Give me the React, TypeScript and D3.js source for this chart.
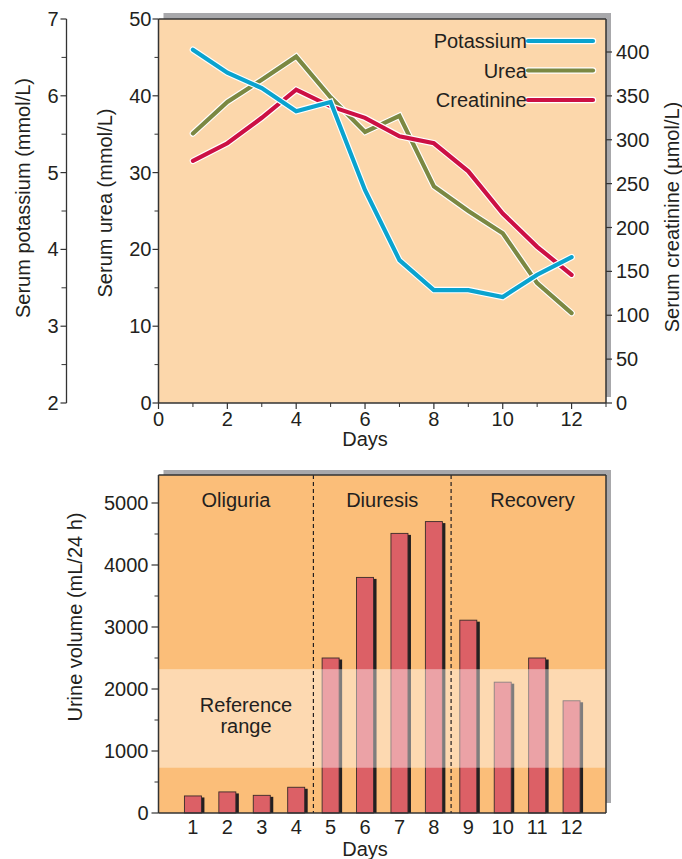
import React from "react";
import * as d3 from "d3";

const days = [1, 2, 3, 4, 5, 6, 7, 8, 9, 10, 11, 12];
const potassium = [6.6, 6.3, 6.1, 5.8, 5.92, 4.77, 3.86, 3.47, 3.47, 3.38, 3.67, 3.9];
const urea = [35.1, 39.2, 42.1, 45.1, 39.8, 35.3, 37.4, 28.2, 25.0, 22.1, 15.6, 11.7];
const creatinine = [276, 296, 325, 357, 338, 325, 304, 296, 264, 216, 178, 146];
const urine = [275, 340, 285, 415, 2500, 3800, 4510, 4700, 3110, 2110, 2500, 1810];
const referenceRange = [730, 2320];
const phases = [
  { name: "Oliguria", from: 0, to: 4.5 },
  { name: "Diuresis", from: 4.5, to: 8.5 },
  { name: "Recovery", from: 8.5, to: 13 },
];
const seriesNames = ["Potassium", "Urea", "Creatinine"];
const seriesColors = ["#0aa3cf", "#7b8842", "#cc1044"];

const FONT = "'Liberation Sans', Arial, Helvetica, sans-serif";
const TXT = "#231f20";
const FS = 20;

export default function App() {
  // Top chart scales
  const L = 158.5, R = 606;
  const x = d3.scaleLinear().domain([0, 13]).range([L, R]);
  const T1 = 19, B1 = 403;
  const yUrea = d3.scaleLinear().domain([0, 50]).range([B1, T1]);
  const yK = d3.scaleLinear().domain([2, 7]).range([B1, T1]);
  const yCr = d3.scaleLinear().domain([0, 400]).range([B1, 52]);
  const kAxisX = 66.5;

  const lineK = d3.line<number>().x((_, i) => x(days[i])).y((d) => yK(d));
  const lineU = d3.line<number>().x((_, i) => x(days[i])).y((d) => yUrea(d));
  const lineC = d3.line<number>().x((_, i) => x(days[i])).y((d) => yCr(d));
  const paths = [lineK(potassium), lineU(urea), lineC(creatinine)];

  // Bottom chart
  const T2 = 475, B2 = 813;
  const yV = d3.scaleLinear().domain([0, 5000]).range([B2, 503]);
  const barW = 17;

  const kMajor = d3.range(2, 7.01, 1);
  const kMinor = d3.range(2.5, 7, 1);
  const uMajor = d3.range(0, 50.1, 10);
  const uMinor = d3.range(5, 50, 10);
  const crTicks = d3.range(0, 400.1, 50);
  const xMajor = d3.range(0, 12.1, 2);
  const xMinor = d3.range(1, 13.1, 2);
  const vMajor = d3.range(0, 5000.1, 1000);
  const vMinor = d3.range(500, 5400, 1000);

  return (
    <svg
      width={682}
      height={859}
      style={{ position: "absolute", left: 0, top: 0, display: "block" }}
      fontFamily={FONT}
    >
      <rect width={682} height={859} fill="#ffffff" />
      {/* ===== TOP CHART ===== */}
      <rect x={L + 5} y={T1 - 6} width={R - L} height={B1 - T1} fill="#a8a8ab" />
      <rect x={L} y={T1} width={R - L} height={B1 - T1} fill="#fcd7ab" />
      <line x1={L} x2={R} y1={T1} y2={T1} stroke="#333" strokeWidth={1.5} />
      <line x1={R} x2={R} y1={T1} y2={B1} stroke="#333" strokeWidth={1.5} />
      <line x1={L} x2={L} y1={T1} y2={B1} stroke="#333" strokeWidth={1.5} />
      <line x1={L} x2={R} y1={B1} y2={B1} stroke="#333" strokeWidth={1.5} />

      {/* potassium axis */}
      <line x1={kAxisX} x2={kAxisX} y1={yK(7)} y2={yK(2)} stroke="#333" strokeWidth={1.3} />
      {kMajor.map((v) => (
        <g key={"km" + v}>
          <line x1={kAxisX - 6} x2={kAxisX} y1={yK(v)} y2={yK(v)} stroke="#333" strokeWidth={1.2} />
          <text x={kAxisX - 8} y={yK(v)} dy="0.35em" textAnchor="end" fontSize={FS} fill={TXT}>{v}</text>
        </g>
      ))}
      {kMinor.map((v) => (
        <line key={"kn" + v} x1={kAxisX - 5} x2={kAxisX} y1={yK(v)} y2={yK(v)} stroke="#333" strokeWidth={1} />
      ))}
      <text transform={`translate(30,198) rotate(-90)`} textAnchor="middle" fontSize={FS} fill={TXT}>
        Serum potassium (mmol/L)
      </text>

      {/* urea axis */}
      {uMajor.map((v) => (
        <g key={"um" + v}>
          <line x1={L - 6} x2={L} y1={yUrea(v)} y2={yUrea(v)} stroke="#333" strokeWidth={1.2} />
          <text x={L - 7} y={yUrea(v)} dy="0.35em" textAnchor="end" fontSize={FS} fill={TXT}>{v}</text>
        </g>
      ))}
      {uMinor.map((v) => (
        <line key={"un" + v} x1={L - 4} x2={L} y1={yUrea(v)} y2={yUrea(v)} stroke="#333" strokeWidth={1} />
      ))}
      <text transform={`translate(112,203) rotate(-90)`} textAnchor="middle" fontSize={FS} fill={TXT}>
        Serum urea (mmol/L)
      </text>

      {/* creatinine axis */}
      {crTicks.map((v) => (
        <g key={"cr" + v}>
          <line x1={R} x2={R + 6} y1={yCr(v)} y2={yCr(v)} stroke="#333" strokeWidth={1.2} />
          <text x={R + 10} y={yCr(v)} dy="0.35em" textAnchor="start" fontSize={FS} fill={TXT}>{v}</text>
        </g>
      ))}
      <text transform={`translate(679,217) rotate(-90)`} textAnchor="middle" fontSize={FS} fill={TXT}>
        Serum creatinine (µmol/L)
      </text>

      {/* x axis top */}
      {xMajor.map((v) => (
        <g key={"xm" + v}>
          <line x1={x(v)} x2={x(v)} y1={B1} y2={B1 + 6} stroke="#333" strokeWidth={1.2} />
          <text x={x(v)} y={B1 + 23} textAnchor="middle" fontSize={FS} fill={TXT}>{v}</text>
        </g>
      ))}
      {xMinor.map((v) => (
        <line key={"xn" + v} x1={x(v)} x2={x(v)} y1={B1} y2={B1 + 4} stroke="#333" strokeWidth={1} />
      ))}
      <text x={x(6)} y={B1 + 43} textAnchor="middle" fontSize={FS} fill={TXT}>Days</text>

      {/* lines */}
      {[1, 2, 0].map((i) => (
        <g key={"ln" + i}>
          <path d={paths[i] || ""} fill="none" stroke="#ffffff" strokeWidth={6.5} strokeLinejoin="miter" strokeLinecap="round" />
          <path d={paths[i] || ""} fill="none" stroke={seriesColors[i]} strokeWidth={4.2} strokeLinejoin="miter" strokeLinecap="round" />
        </g>
      ))}

      {/* legend */}
      {seriesNames.map((n, i) => {
        const ly = 41 + i * 29.5;
        return (
          <g key={"lg" + n}>
            <line x1={528} x2={593} y1={ly} y2={ly} stroke="#ffffff" strokeWidth={6.5} strokeLinecap="round" />
            <line x1={528} x2={593} y1={ly} y2={ly} stroke={seriesColors[i]} strokeWidth={4.2} strokeLinecap="round" />
            <text x={527} y={ly} dy="0.35em" textAnchor="end" fontSize={FS} fill={TXT}>{n}</text>
          </g>
        );
      })}

      {/* ===== BOTTOM CHART ===== */}
      <rect x={L + 5} y={T2 - 5} width={R - L} height={B2 - T2 - 5} fill="#a8a8ab" />
      <rect x={L} y={T2} width={R - L} height={B2 - T2} fill="#fbbe79" />

      {/* bars */}
      {urine.map((v, i) => {
        const cx = x(days[i]);
        return (
          <g key={"bar" + i}>
            <rect x={cx - barW / 2 + 3} y={yV(v) + 1.5} width={barW} height={B2 - yV(v) - 1.5} fill="#231f20" />
            <rect x={cx - barW / 2} y={yV(v)} width={barW} height={B2 - yV(v)} fill="#dc6066" stroke="#3a2a2a" strokeWidth={0.9} />
          </g>
        );
      })}

      {/* reference band (translucent) */}
      <rect
        x={L}
        y={yV(referenceRange[1])}
        width={R - L}
        height={yV(referenceRange[0]) - yV(referenceRange[1])}
        fill="#ffffff"
        fillOpacity={0.42}
      />

      {/* dashed phase dividers */}
      {[4.5, 8.5].map((v) => (
        <line key={"dv" + v} x1={x(v)} x2={x(v)} y1={T2} y2={B2} stroke="#231f20" strokeWidth={1.2} strokeDasharray="4,3" />
      ))}

      {phases.map((p) => (
        <text key={p.name} x={(x(p.from) + x(p.to)) / 2 + (p.name === "Recovery" ? 4 : 0)} y={507} textAnchor="middle" fontSize={FS} fill={TXT}>
          {p.name}
        </text>
      ))}
      <text x={246} y={712} textAnchor="middle" fontSize={FS} fill={TXT}>Reference</text>
      <text x={246} y={733} textAnchor="middle" fontSize={FS} fill={TXT}>range</text>

      {/* frame */}
      <line x1={L} x2={R} y1={T2} y2={T2} stroke="#333" strokeWidth={1.5} />
      <line x1={R} x2={R} y1={T2} y2={B2} stroke="#333" strokeWidth={1.5} />
      <line x1={L} x2={L} y1={T2} y2={B2} stroke="#333" strokeWidth={1.5} />
      <line x1={L} x2={R} y1={B2} y2={B2} stroke="#333" strokeWidth={1.5} />

      {/* y axis bottom */}
      {vMajor.map((v) => (
        <g key={"vm" + v}>
          <line x1={L - 7} x2={L} y1={yV(v)} y2={yV(v)} stroke="#333" strokeWidth={1.2} />
          <text x={L - 10} y={yV(v)} dy="0.35em" textAnchor="end" fontSize={FS} fill={TXT}>{v}</text>
        </g>
      ))}
      {vMinor.map((v) => (
        <line key={"vn" + v} x1={L - 4} x2={L} y1={yV(v)} y2={yV(v)} stroke="#333" strokeWidth={1} />
      ))}
      <text transform={`translate(82,617) rotate(-90)`} textAnchor="middle" fontSize={FS} fill={TXT}>
        Urine volume (mL/24 h)
      </text>

      {/* x axis bottom */}
      {days.map((d) => (
        <text key={"xd" + d} x={x(d)} y={B2 + 21} textAnchor="middle" fontSize={FS} fill={TXT}>{d}</text>
      ))}
      <text x={x(6)} y={B2 + 43} textAnchor="middle" fontSize={FS} fill={TXT}>Days</text>
    </svg>
  );
}
